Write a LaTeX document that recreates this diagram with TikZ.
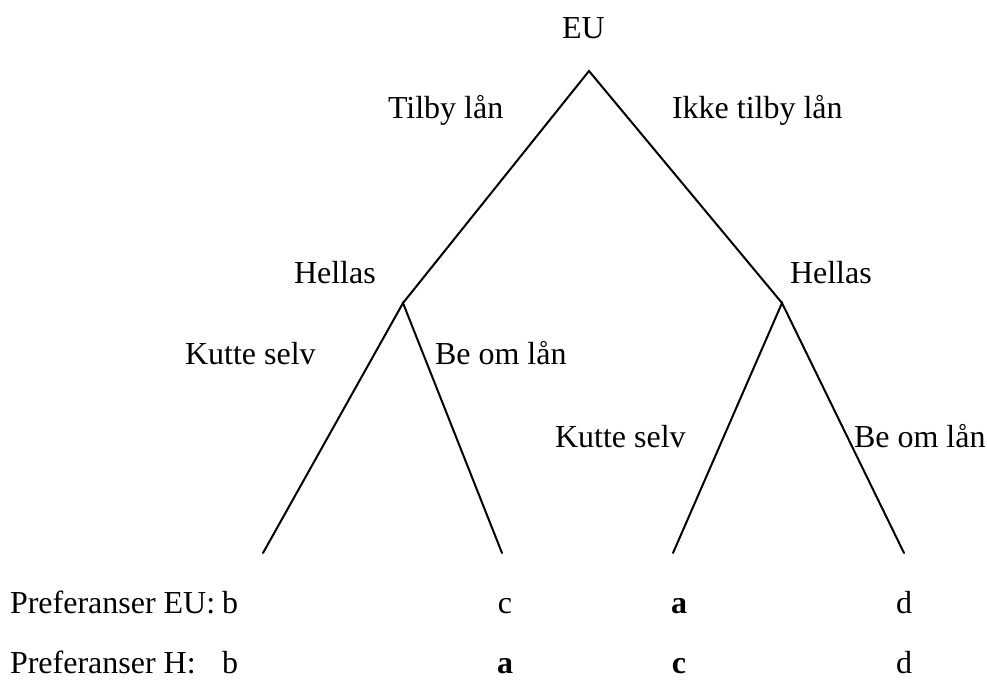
\documentclass[tikz,border=0pt]{standalone}
\usepackage{fontspec}
\setmainfont{Liberation Serif}
\begin{document}
\begin{tikzpicture}[x=0.75pt,y=-0.75pt,
  lbl/.style={inner sep=0pt,outer sep=0pt,anchor=base west,font=\fontsize{24}{28}\selectfont},
  val/.style={inner sep=0pt,outer sep=0pt,anchor=base,font=\fontsize{24}{28}\selectfont},
  branch/.style={draw=black,line width=1.5pt,line cap=round}]
\useasboundingbox (0,0) rectangle (987,695);
% decision points
\coordinate (root) at (589,71);
\coordinate (hl) at (403,303);
\coordinate (hr) at (782,303);
\coordinate (l1) at (263,553);
\coordinate (l2) at (502,553);
\coordinate (l3) at (673,553);
\coordinate (l4) at (904,553);
\draw[branch] (hl) -- (root) -- (hr);
\draw[branch] (l1) -- (hl) -- (l2);
\draw[branch] (l3) -- (hr) -- (l4);
% labels
\node[lbl] (eu) at (562,39) {EU};
\node[lbl] (tilby) at (388,119) {Tilby lån};
\node[lbl] (ikke) at (672,119) {Ikke tilby lån};
\node[lbl] (hellasl) at (294,283) {Hellas};
\node[lbl] (hellasr) at (790,283) {Hellas};
\node[lbl] (kuttel) at (185,364) {Kutte selv};
\node[lbl] (beoml) at (435,364) {Be om lån};
\node[lbl] (kutter) at (555,447) {Kutte selv};
\node[lbl] (beomr) at (854,447) {Be om lån};
% preferences
\node[lbl] (peu) at (10,613) {Preferanser EU:};
\node[lbl] (peub) at (222,613) {b};
\node[val] (peuc) at (505,613) {c};
\node[val] (peua) at (679,613) {\textbf{a}};
\node[val] (peud) at (904,613) {d};
\node[lbl] (ph) at (10,673) {Preferanser H:};
\node[lbl] (phb) at (222,673) {b};
\node[val] (pha) at (505,673) {\textbf{a}};
\node[val] (phc) at (679,673) {\textbf{c}};
\node[val] (phd) at (904,673) {d};
\end{tikzpicture}
\end{document}
